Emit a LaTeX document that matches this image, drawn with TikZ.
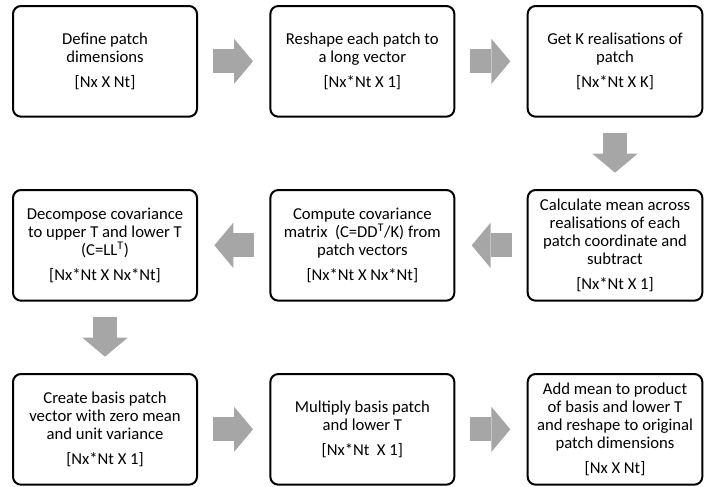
\documentclass[tikz,border=0pt]{standalone}
\usepackage{fontspec}
\setmainfont{Carlito}
\usepackage{xcolor}
\usepackage{tikz}
\usetikzlibrary{arrows.meta,positioning,calc}

\definecolor{arrowgray}{HTML}{A6A6A6}

\begin{document}
\begin{tikzpicture}[
  node distance=55pt,
  box/.style={rectangle, draw, rounded corners=6pt, line width=1.5pt, outer sep=0pt,
    minimum width=138pt, minimum height=83pt, align=center,
    font=\fontsize{12.5}{13.5}\selectfont},
  narrowbox/.style={box, minimum width=131pt},
  arrow/.style={draw=arrowgray, line width=18pt, shorten <=12pt, shorten >=13pt,
    -{Triangle[length=14.25pt, width=34pt, line width=0pt, color=arrowgray]}}
]
  \useasboundingbox (0,0) rectangle (529.5pt,-364.5pt);

  % top row
  \node[box] (define) at (78.75pt,-46pt) {Define patch\\dimensions\\[5pt][Nx X Nt]};
  \node[box, right=of define] (reshape) {Reshape each patch to\\a long vector\\[5pt][Nx*Nt X 1]};
  \node[narrowbox, right=of reshape] (realise) {Get K realisations of\\patch\\[5pt][Nx*Nt X K]};

  % middle row
  \node[narrowbox, below=of realise] (mean) {Calculate mean across\\realisations of each\\patch coordinate and\\subtract\\[5pt][Nx*Nt X 1]};
  \node[box, left=of mean] (cov) {Compute covariance\\matrix~ (C=DD\textsuperscript{T}/K) from\\patch vectors\\[5pt][Nx*Nt X Nx*Nt]};
  \node[box, left=of cov] (decomp) {Decompose covariance\\to upper T and lower T\\(C=LL\textsuperscript{T})\\[5pt][Nx*Nt X Nx*Nt]};

  % bottom row
  \node[box, below=of decomp] (basis) {Create basis patch\\vector with zero mean\\and unit variance\\[5pt][Nx*Nt X 1]};
  \node[box, right=of basis] (multiply) {Multiply basis patch\\and lower T\\[5pt][Nx*Nt~ X 1]};
  \node[narrowbox, right=of multiply] (addmean) {Add mean to product\\of basis and lower T\\and reshape to original\\patch dimensions\\[5pt][Nx X Nt]};

  \draw[arrow] (define) -- (reshape);
  \draw[arrow] (reshape) -- (realise);
  \draw[arrow] (realise) -- (mean);
  \draw[arrow] (mean) -- (cov);
  \draw[arrow] (cov) -- (decomp);
  \draw[arrow] (decomp) -- (basis);
  \draw[arrow] (basis) -- (multiply);
  \draw[arrow] (multiply) -- (addmean);
\end{tikzpicture}
\end{document}
